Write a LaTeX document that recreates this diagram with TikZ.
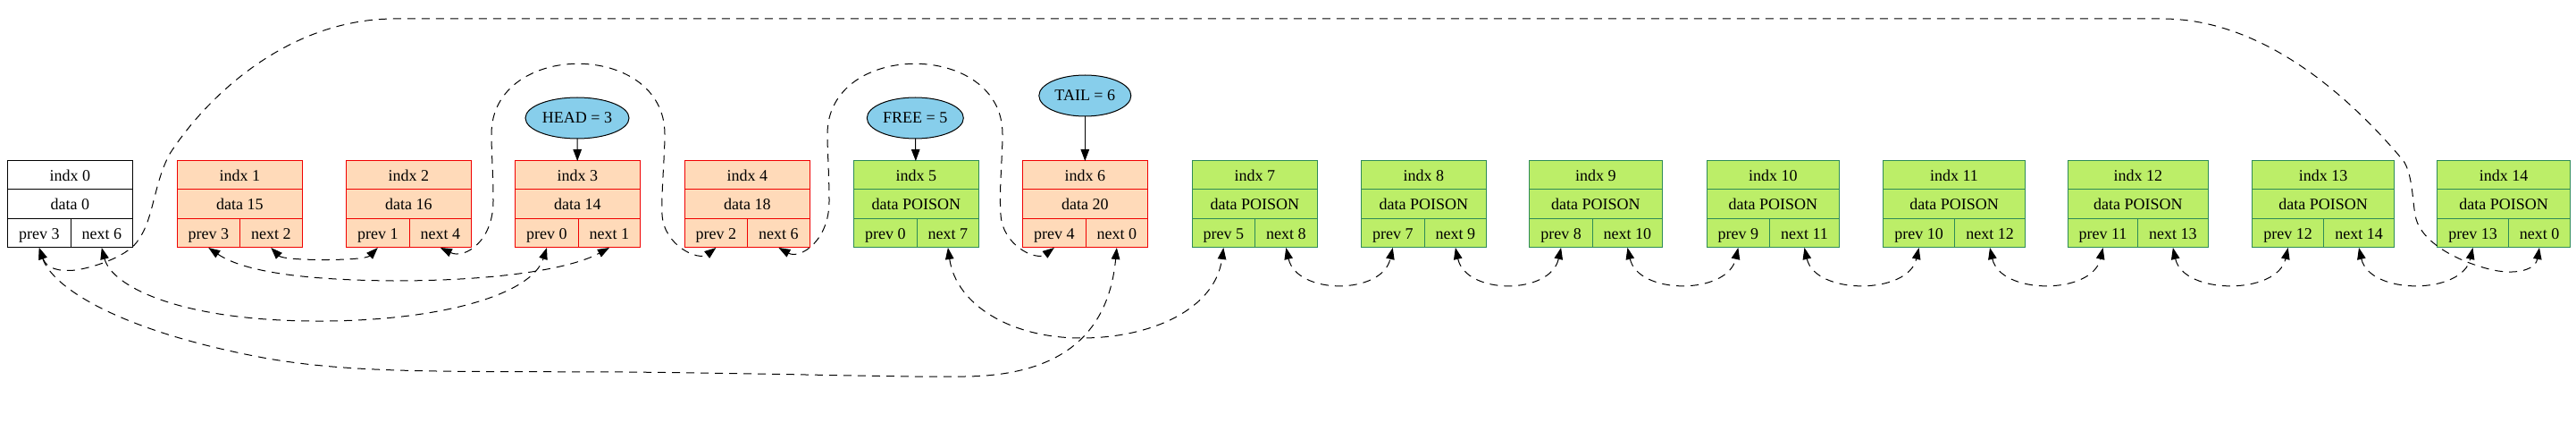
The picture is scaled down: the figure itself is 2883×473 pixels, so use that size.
\documentclass[tikz,border=0pt]{standalone}
\usepackage{fontspec}
\setmainfont{Liberation Serif}
\usetikzlibrary{arrows.meta,shapes.geometric}
\definecolor{peach}{HTML}{FFDAB9}
\definecolor{usedborder}{HTML}{F00000}
\definecolor{freefill}{HTML}{BCEE68}
\definecolor{freeborder}{HTML}{2E8B57}
\definecolor{sky}{HTML}{87CEEB}
\tikzset{
  recbox/.style={rectangle, inner sep=0pt, outer sep=0pt, minimum height=96pt, line width=1pt},
  zerorec/.style={draw=black, fill=white},
  zerorecline/.style={draw=black, line width=1pt},
  usedrec/.style={draw=usedborder, fill=peach},
  usedrecline/.style={draw=usedborder, line width=1pt},
  freerec/.style={draw=freeborder, fill=freefill},
  freerecline/.style={draw=freeborder, line width=1pt},
  cell/.style={inner sep=0pt, anchor=base, font=\fontsize{18}{20}\selectfont},
  lnk/.style={draw=black, line width=1pt, dash pattern=on 9pt off 7pt,
    {Triangle[length=13pt,width=9.5pt]}-{Triangle[length=13pt,width=9.5pt]}},
  ptr/.style={draw=black, line width=1pt, -{Triangle[length=13pt,width=9.5pt]}},
  ell/.style={ellipse, draw=black, fill=sky, line width=1pt, inner sep=0pt, outer sep=0pt,
    minimum height=46pt, font=\fontsize{18}{20}\selectfont},
}
\newcommand{\recnode}[9]{%
  \pgfmathsetmacro{\recw}{#4-#2}%
  \node[recbox,#9,minimum width=\recw pt,anchor=north west] (#1) at (#2,180) {};
  \draw[#9line] (#2,212) -- (#4,212) (#2,244) -- (#4,244) (#3,244) -- (#3,276);
  \node[cell] (#1i) at ({(#2+#4)/2},203) {indx #5};
  \node[cell] (#1d) at ({(#2+#4)/2},235) {data #6};
  \node[cell] (#1pv) at ({(#2+#3)/2},267) {prev #7};
  \node[cell] (#1nx) at ({(#3+#4)/2},267) {next #8};
  \coordinate (#1p) at ({(#2+#3)/2},277);
  \coordinate (#1n) at ({(#3+#4)/2},277);
}
\newcommand{\adjarc}[2]{\draw[lnk] (#1) .. controls +(12,53) and +(-12,53) .. (#2);}
\begin{document}
\begin{tikzpicture}[x=1pt,y=-1pt]
\useasboundingbox (0,0) rectangle (2883,473);
\recnode{n0}{8.3}{79.3}{148.3}{0}{0}{3}{6}{zerorec}
\recnode{n1}{198.3}{268.3}{338.3}{1}{15}{3}{2}{usedrec}
\recnode{n2}{387.3}{458.3}{527.3}{2}{16}{1}{4}{usedrec}
\recnode{n3}{576.4}{647.5}{716.4}{3}{14}{0}{1}{usedrec}
\recnode{n4}{766.4}{836.4}{906.4}{4}{18}{2}{6}{usedrec}
\recnode{n5}{955.4}{1026.4}{1095.4}{5}{POISON}{0}{7}{freerec}
\recnode{n6}{1144.3}{1215.4}{1284.3}{6}{20}{4}{0}{usedrec}
\recnode{n7}{1334.3}{1404.3}{1474.3}{7}{POISON}{5}{8}{freerec}
\recnode{n8}{1523.2}{1594.3}{1663.4}{8}{POISON}{7}{9}{freerec}
\recnode{n9}{1711.6}{1782.6}{1860.3}{9}{POISON}{8}{10}{freerec}
\recnode{n10}{1910.3}{1980.4}{2058.5}{10}{POISON}{9}{11}{freerec}
\recnode{n11}{2107.6}{2187.5}{2266.5}{11}{POISON}{10}{12}{freerec}
\recnode{n12}{2314.6}{2392.5}{2471.2}{12}{POISON}{11}{13}{freerec}
\recnode{n13}{2520.7}{2600.7}{2679.3}{13}{POISON}{12}{14}{freerec}
\recnode{n14}{2727.7}{2807.3}{2876.7}{14}{POISON}{13}{0}{freerec}

\node[ell, minimum width=116pt] (head) at (646,132) {HEAD = 3};
\node[ell, minimum width=108pt] (free) at (1024.3,132) {FREE = 5};
\node[ell, minimum width=103pt] (tail) at (1214.3,107) {TAIL = 6};
\draw[ptr] (head) -- (n3);
\draw[ptr] (free) -- (n5);
\draw[ptr] (tail) -- (n6);

% short arcs
\draw[lnk] (n1n) .. controls (318,292) and (408,292) .. (n2p);
\adjarc{n7n}{n8p}
\adjarc{n8n}{n9p}
\adjarc{n9n}{n10p}
\adjarc{n10n}{n11p}
\adjarc{n11n}{n12p}
\adjarc{n12n}{n13p}
\adjarc{n13n}{n14p}

% loop over HEAD
\draw[lnk] (n2n) .. controls (520,290) and (552,270) .. (552,225)
  .. controls (552,195) and (550,170) .. (550,150)
  .. controls (550,45) and (744,45) .. (744,150)
  .. controls (744,175) and (740,215) .. (741,240)
  .. controls (743,275) and (782,292) .. (n4p);
% loop over FREE
\draw[lnk] (n4n) .. controls (895,290) and (928,270) .. (928,225)
  .. controls (928,195) and (926,170) .. (926,150)
  .. controls (926,45) and (1122,45) .. (1122,150)
  .. controls (1122,175) and (1118,215) .. (1120,240)
  .. controls (1122,275) and (1160,292) .. (n6p);
% 1 prev <-> 3 next
\draw[lnk] (n1p) .. controls (270,302) and (330,313) .. (440,314)
  .. controls (560,314) and (640,300) .. (n3n);
% 0 next <-> 3 prev
\draw[lnk] (n0n) .. controls (125,320) and (200,358) .. (350,359)
  .. controls (490,360) and (595,330) .. (n3p);
% 0 prev <-> 6 next
\draw[lnk] (n0p) .. controls (58,320) and (130,370) .. (300,401)
  .. controls (400,418) and (500,415) .. (700,416)
  .. controls (900,418) and (1000,422) .. (1080,421)
  .. controls (1180,420) and (1240,380) .. (n6n);
% 5 next <-> 7 prev
\draw[lnk] (n5n) .. controls (1070,340) and (1130,378) .. (1210,378)
  .. controls (1290,378) and (1360,345) .. (n7p);
% 0 prev <-> 14 next, over the top
\draw[lnk] (n0p) .. controls (52,300) and (65,304) .. (85,302)
  .. controls (110,298) and (145,285) .. (155,268)
  .. controls (172,245) and (172,205) .. (190,172)
  .. controls (230,110) and (320,22) .. (440,21)
  -- (2420,21)
  .. controls (2540,21) and (2640,120) .. (2690,180)
  .. controls (2700,195) and (2700,225) .. (2703,240)
  .. controls (2706,265) and (2740,290) .. (2790,302)
  .. controls (2820,308) and (2838,300) .. (n14n);
\end{tikzpicture}
\end{document}
